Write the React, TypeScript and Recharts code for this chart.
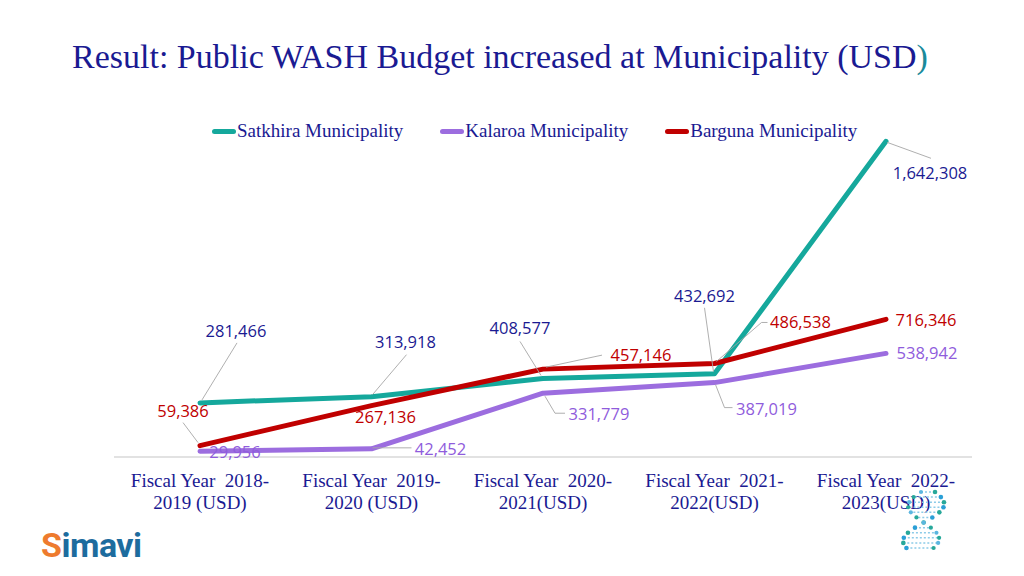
import React from 'react';
import { LineChart, Line, XAxis, YAxis, Legend, LabelList } from 'recharts';

const CATEGORIES = [
  'Fiscal Year  2018-\n2019 (USD)',
  'Fiscal Year  2019-\n2020 (USD)',
  'Fiscal Year  2020-\n2021(USD)',
  'Fiscal Year  2021-\n2022(USD)',
  'Fiscal Year  2022-\n2023(USD)',
];
const SATKHIRA = [281466, 313918, 408577, 432692, 1642308];
const KALAROA = [29956, 42452, 331779, 387019, 538942];
const BARGUNA = [59386, 267136, 457146, 486538, 716346];
const SERIES_NAMES = ['Satkhira Municipality', 'Kalaroa Municipality', 'Barguna Municipality'];
const TITLE = 'Result: Public WASH Budget increased at Municipality (USD';

const data = CATEGORIES.map((c, i) => ({
  category: c,
  satkhira: SATKHIRA[i],
  kalaroa: KALAROA[i],
  barguna: BARGUNA[i],
}));

// label placement (styling): text centre offset from point, optional leader line
type LL = { dx: number; dy: number; leader?: number[] };
const SAT_LABELS: LL[] = [
  { dx: 36, dy: -72, leader: [2, -3, 37, -60] },
  { dx: 34, dy: -55, leader: [1, -2, 35, -42] },
  { dx: -23, dy: -50, leader: [-23, -37, -2, -3] },
  { dx: -10, dy: -78, leader: [-10, -66, -1, -2] },
  { dx: 44, dy: 32, leader: [1, 1, 45, 17] },
];
const KAL_LABELS: LL[] = [
  { dx: 35, dy: 1 },
  { dx: 69, dy: 0, leader: [1, -1, 40, -1] },
  { dx: 56, dy: 21, leader: [2, 3, 12, 20, 22, 20] },
  { dx: 52, dy: 26, leader: [1, 2, 10, 25, 18, 25] },
  { dx: 41, dy: 0 },
];
const BAR_LABELS: LL[] = [
  { dx: -17, dy: -35, leader: [-17, -23, -2, -3] },
  { dx: 14, dy: 11 },
  { dx: 98, dy: -14, leader: [3, -2, 59, -14] },
  { dx: 86, dy: -41, leader: [2, -2, 47, -41, 53, -41] },
  { dx: 40, dy: 1 },
];

const TEAL = '#15a89c';
const PURPLE = '#9c6ddf';
const RED = '#c00000';
const NAVY = '#1a1a92';
const LABEL_PURPLE = '#8f5cdc';

const makeLabel = (layout: LL[], color: string) => (props: any) => {
  const { x, y, value, index } = props;
  const l = layout[index];
  if (!l) return null;
  let leader = null;
  if (l.leader) {
    const pts: string[] = [];
    for (let k = 0; k < l.leader.length; k += 2) pts.push(`${x + l.leader[k]},${y + l.leader[k + 1]}`);
    leader = <polyline points={pts.join(' ')} fill="none" stroke="#a6a6a6" strokeWidth={0.9} />;
  }
  return (
    <g>
      {leader}
      <text
        x={x + l.dx}
        y={y + l.dy + 6}
        textAnchor="middle"
        fill={color}
        fontSize={16.5}
        fontFamily="'Open Sans', sans-serif"
      >
        {Number(value).toLocaleString('en-US')}
      </text>
    </g>
  );
};

const CategoryTick = (props: any) => {
  const { x, y, payload } = props;
  const lines = String(payload.value).split('\n');
  return (
    <g>
      {lines.map((ln, i) => (
        <text
          key={i}
          x={x}
          y={y + 22 + i * 22}
          textAnchor="middle"
          fill={NAVY}
          fontSize={19}
          fontFamily="'Liberation Serif', serif"
          style={{ whiteSpace: 'pre' }}
        >
          {ln}
        </text>
      ))}
    </g>
  );
};

const LEGEND_COLORS = [TEAL, PURPLE, RED];
const renderLegend = () => (
  <div style={{ display: 'flex', paddingLeft: 212, alignItems: 'center' }}>
    {SERIES_NAMES.map((n, i) => (
      <div key={n} style={{ display: 'flex', alignItems: 'center', marginRight: 37 }}>
        <div style={{ width: 24, height: 5, borderRadius: 3, background: LEGEND_COLORS[i], marginRight: 1 }} />
        <span style={{ fontFamily: "'Liberation Serif', serif", fontSize: 19, color: NAVY, lineHeight: '24px' }}>{n}</span>
      </div>
    ))}
  </div>
);

const Dna = () => {
  const dots: React.ReactNode[] = [];
  for (let i = 0; i < 12; i++) {
    const t = i / 11;
    const yy = 492 + t * 56;
    const cx = 928 - t * 8;
    const s = Math.sin(t * Math.PI * 1.6 + 0.4) * 18;
    const xa = cx + s;
    const xb = cx - s;
    dots.push(<line key={'l' + i} x1={xa} x2={xb} y1={yy} y2={yy} stroke="#8ccbe8" strokeWidth={1.5} strokeDasharray="2 2" />);
    dots.push(<circle key={'a' + i} cx={xa} cy={yy} r={2.3} fill={i % 2 ? '#2a9fd6' : '#27a89a'} />);
    dots.push(<circle key={'b' + i} cx={xb} cy={yy} r={2.1} fill={i % 2 ? '#27a89a' : '#5bb6e0'} />);
  }
  return <g>{dots}</g>;
};

export default function App() {
  return (
    <div style={{ position: 'absolute', left: 0, top: 0, width: 1024, height: 576, background: '#ffffff', overflow: 'hidden' }}>
      <LineChart width={1024} height={576} data={data} margin={{ top: 111, right: 52, bottom: 89, left: 114 }}>
        <XAxis
          dataKey="category"
          height={30}
          axisLine={{ stroke: '#d9d9d9', strokeWidth: 1.5 }}
          tickLine={false}
          padding={{ left: 86, right: 86 }}
          tick={<CategoryTick />}
          interval={0}
        />
        <YAxis hide width={0} domain={[0, 1800000]} />
        <Legend verticalAlign="middle" align="center" wrapperStyle={{ top: 119, left: 0, width: 1024 }} content={renderLegend} />
        <Line type="linear" dataKey="satkhira" name={SERIES_NAMES[0]} stroke={TEAL} strokeWidth={5} dot={false} strokeLinecap="round" strokeLinejoin="round" isAnimationActive={false}>
          <LabelList dataKey="satkhira" content={makeLabel(SAT_LABELS, NAVY)} />
        </Line>
        <Line type="linear" dataKey="kalaroa" name={SERIES_NAMES[1]} stroke={PURPLE} strokeWidth={5} dot={false} strokeLinecap="round" strokeLinejoin="round" isAnimationActive={false}>
          <LabelList dataKey="kalaroa" content={makeLabel(KAL_LABELS, LABEL_PURPLE)} />
        </Line>
        <Line type="linear" dataKey="barguna" name={SERIES_NAMES[2]} stroke={RED} strokeWidth={5} dot={false} strokeLinecap="round" strokeLinejoin="round" isAnimationActive={false}>
          <LabelList dataKey="barguna" content={makeLabel(BAR_LABELS, RED)} />
        </Line>
      </LineChart>
      <svg width={1024} height={576} style={{ position: 'absolute', left: 0, top: 0, pointerEvents: 'none' }}>
        <text x={72} y={68} fontFamily="'Liberation Serif', serif" fontSize={34} fill={NAVY}>
          {TITLE}
          <tspan fill="#1a8a9a">)</tspan>
        </text>
        <text x={41} y={557} fontFamily="Roboto, sans-serif" fontWeight={700} fontSize={34} fill="#1d6c9e" letterSpacing={-0.5}>
          <tspan fill="#ee7b2e">S</tspan>imavi
        </text>
        <Dna />
      </svg>
    </div>
  );
}
